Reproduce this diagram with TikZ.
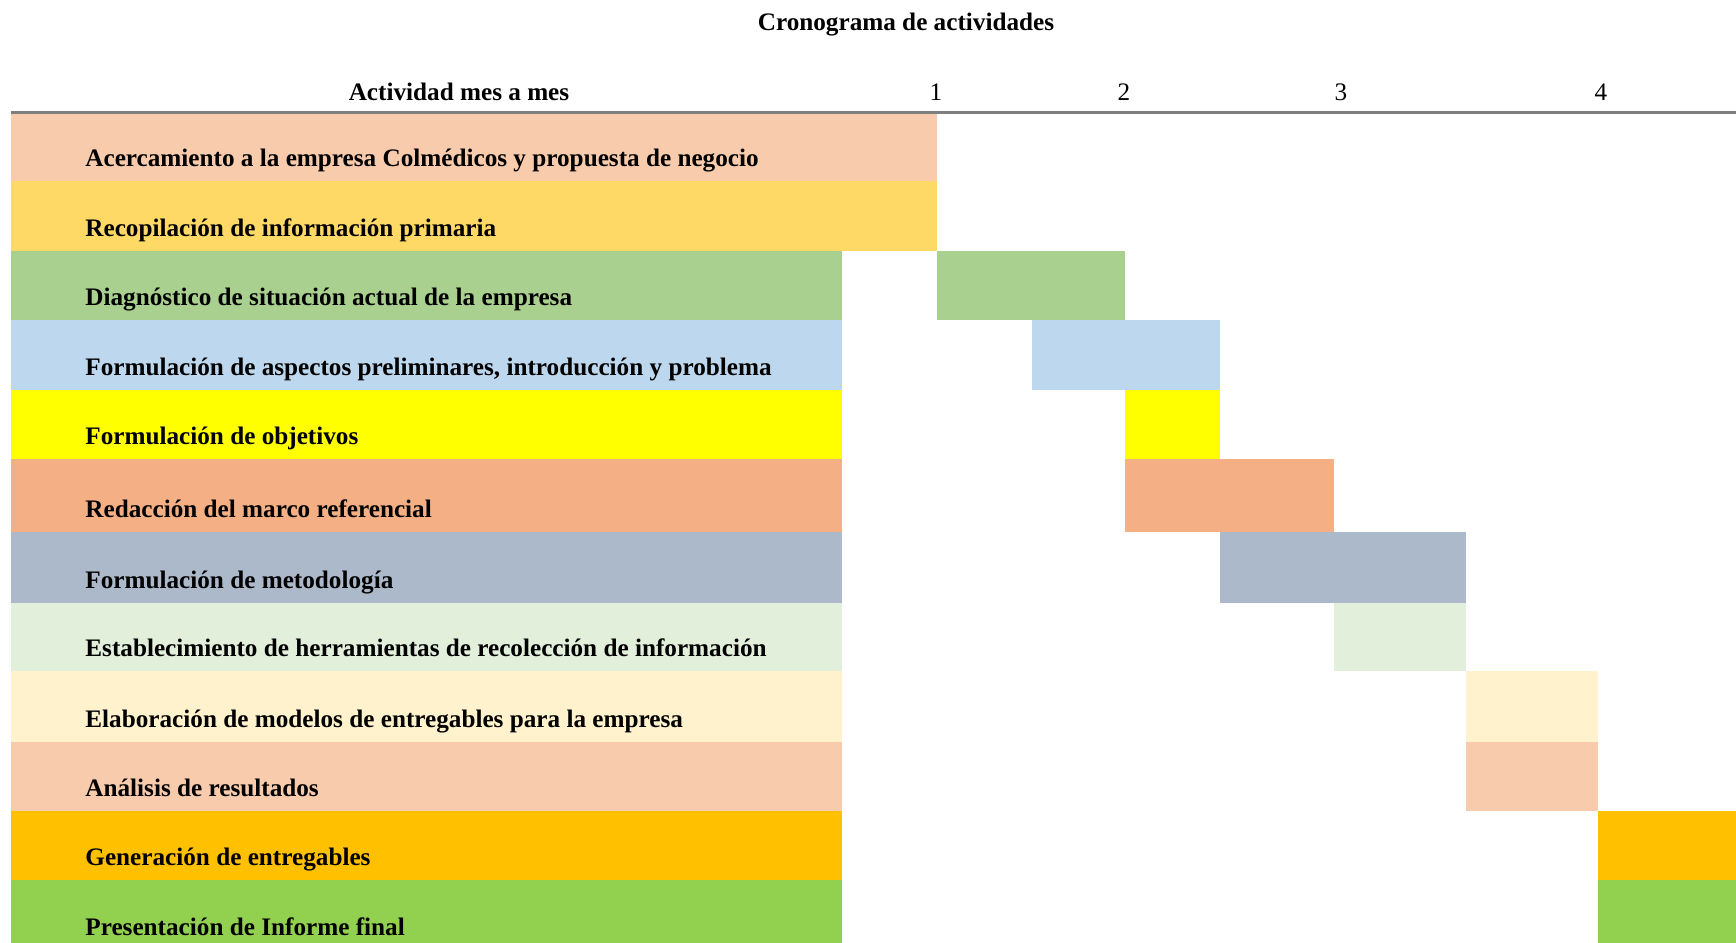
\documentclass[tikz,border=0pt]{standalone}
\usepackage{fontspec}
\setmainfont{Liberation Serif}
\definecolor{peach}{HTML}{F8CBAD}
\definecolor{gold}{HTML}{FFD966}
\definecolor{sage}{HTML}{A9D08E}
\definecolor{skyblue}{HTML}{BDD7EE}
\definecolor{lemon}{HTML}{FFFF00}
\definecolor{salmon}{HTML}{F4B084}
\definecolor{slate}{HTML}{ACB9CA}
\definecolor{mint}{HTML}{E2EFDA}
\definecolor{cream}{HTML}{FFF2CC}
\definecolor{amber}{HTML}{FFC000}
\definecolor{lime}{HTML}{92D050}
\definecolor{rulegray}{HTML}{7F7F7F}
\tikzset{
    label text/.style={font=\fontsize{12.6}{15}\selectfont, inner sep=0pt},
    bold text/.style={font=\fontsize{12.6}{15}\selectfont\bfseries, inner sep=0pt},
    task/.style={bold text, anchor=base west}
}
\begin{document}
\begin{tikzpicture}[x=0.5pt,y=-0.5pt]
    \useasboundingbox (0,0) rectangle (1736,943);

    % Title
    \node[bold text, anchor=base] (title) at (906,30) {Cronograma de actividades};

    % Header
    \node[bold text, anchor=base] (head) at (459,100) {Actividad mes a mes};
    \node[label text, anchor=base] (m1) at (936,100) {1};
    \node[label text, anchor=base] (m2) at (1124,100) {2};
    \node[label text, anchor=base] (m3) at (1341,100) {3};
    \node[label text, anchor=base] (m4) at (1601,100) {4};

    % Rows: number / top / bottom / colour / activity / bar start / bar end
    \foreach \i/\top/\bot/\col/\txt/\a/\b in {
        1/112/181/peach/{Acercamiento a la empresa Colmédicos y propuesta de negocio}/842/937,
        2/181/251/gold/{Recopilación de información primaria}/842/937,
        3/251/320/sage/{Diagnóstico de situación actual de la empresa}/937/1125,
        4/320/390/skyblue/{Formulación de aspectos preliminares, introducción y problema}/1032/1220,
        5/390/459/lemon/{Formulación de objetivos}/1125/1220,
        6/459/532/salmon/{Redacción del marco referencial}/1125/1334,
        7/532/603/slate/{Formulación de metodología}/1220/1466,
        8/603/671/mint/{Establecimiento de herramientas de recolección de información}/1334/1466,
        9/671/742/cream/{Elaboración de modelos de entregables para la empresa}/1466/1598,
        10/742/811/peach/{Análisis de resultados}/1466/1598,
        11/811/880/amber/{Generación de entregables}/1598/1736,
        12/880/950/lime/{Presentación de Informe final}/1598/1736}{
        \fill[\col] (11,\top) rectangle (842,\bot);
        \fill[\col] (\a,\top) rectangle (\b,\bot);
        \node[task] (t\i) at (85,\bot-15) {\txt};
    }

    % Header rule
    \draw[rulegray, line width=1.5pt] (11,112) -- (1736,112);
\end{tikzpicture}
\end{document}
